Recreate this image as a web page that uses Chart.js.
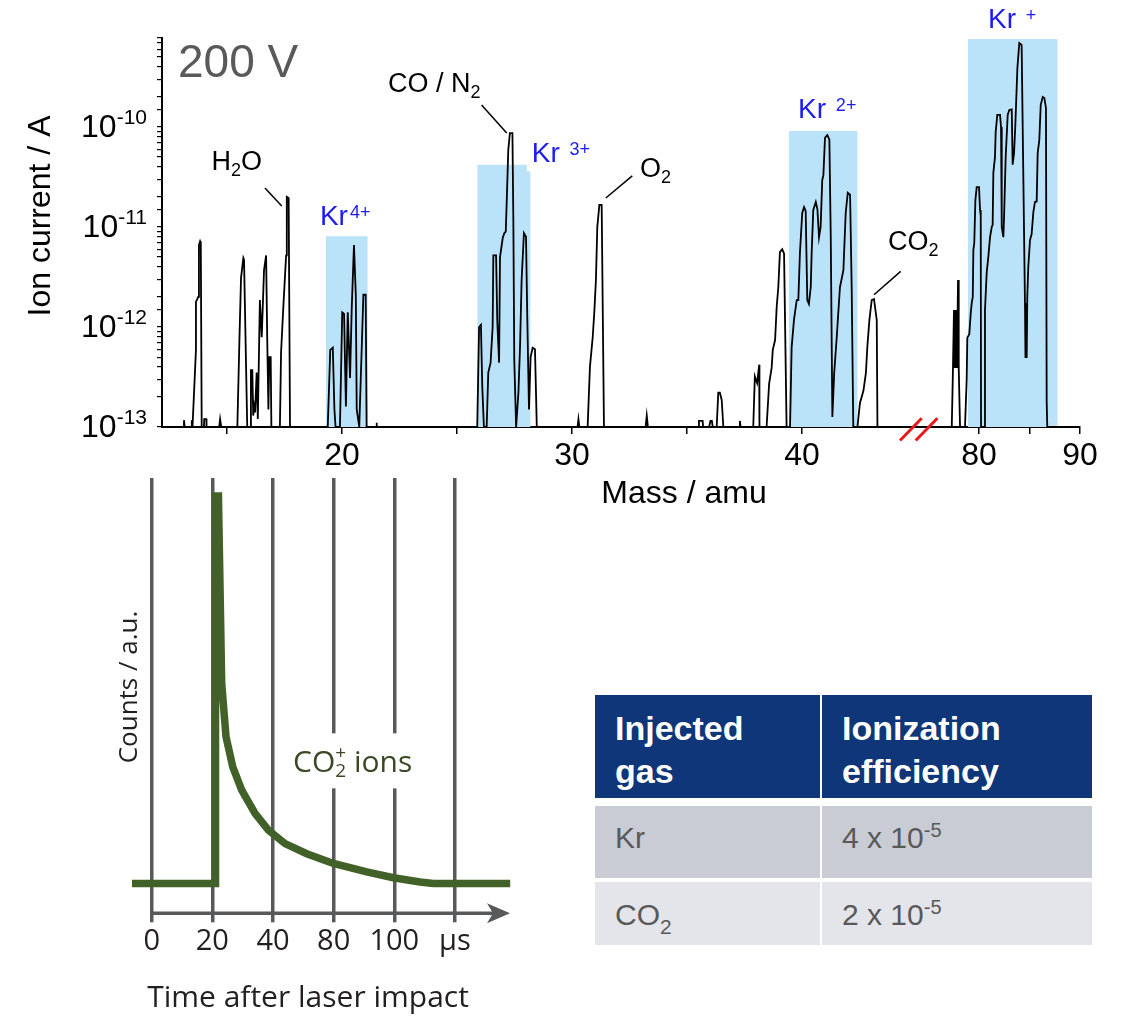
<!DOCTYPE html>
<html>
<head>
<meta charset="utf-8">
<script src="https://cdn.jsdelivr.net/npm/chart.js@4.4.0/dist/chart.umd.min.js"></script>
<style>
  html, body { margin: 0; padding: 0; background: #fff; }
  body { width: 1122px; height: 1023px; position: relative; overflow: hidden; font-family: 'Liberation Sans', Arial, sans-serif; }
  canvas { position: absolute; }
  #specLo { left: 0; top: 0; }
  #specHi { left: 880px; top: 0; }
  #decay { left: 100px; top: 470px; }
  .eff { position: absolute; left: 595px; top: 695px; width: 497px; }
  .eff .row { display: flex; gap: 2px; }
  .eff .row > div { box-sizing: border-box; padding-left: 20px; }
  .eff .c1 { width: 225px; }
  .eff .c2 { width: 270px; }
  .eff .head > div { height: 103px; background: #0e3678; color: #fff; font-weight: bold; font-size: 34px; line-height: 43px; padding-top: 12px; }
  .eff .body > div { font-size: 30px; line-height: 36px; color: #595959; }
  .eff .r1 { margin-top: 8px; }
  .eff .r1 > div { height: 72px; background: #c9ccd4; padding-top: 14px; }
  .eff .r2 { margin-top: 4px; }
  .eff .r2 > div { height: 63px; background: #e4e5ea; padding-top: 15px; }
  .eff .sup { font-size: 20px; line-height: 0; position: relative; top: -11px; }
  .eff .sub { font-size: 21px; line-height: 0; position: relative; top: 9px; }
</style>
</head>
<body>
<canvas id="specLo" width="1122" height="520"></canvas>
<canvas id="specHi" width="242" height="520"></canvas>
<canvas id="decay" width="440" height="553"></canvas>
<div class="eff" id="effTable"></div>
<script>
// ---- mass spectrum, 200 V (mass in amu, ion current in A) ----
const spectrumLow = [
  [12.174, 1e-13], [13.10, 1e-13], [13.13, 1.17e-13], [13.16, 1e-13], [13.44, 1e-13], [13.47, 1.17e-13], [13.50, 1e-13],
  [13.52, 1e-13], [13.65, 5.9e-13], [13.65, 1.78e-12], [13.75, 2.0e-12], [13.78, 6.6e-12], [13.83, 7.2e-12], [13.86, 6.9e-12], [13.90, 1e-13],
  [14.00, 1e-13], [14.01, 1.2e-13], [14.10, 1.2e-13], [14.11, 1e-13], [14.66, 1e-13], [14.70, 1.2e-13], [14.75, 1e-13],
  [15.45, 1e-13], [15.54, 7.4e-13], [15.61, 3.1e-12], [15.71, 4.9e-12], [15.74, 4.7e-12], [15.88, 1e-13],
  [16.02, 1e-13], [16.04, 3.7e-13], [16.10, 3.7e-13], [16.14, 1.3e-13], [16.18, 1.6e-13], [16.22, 1.4e-13], [16.29, 3.5e-13],
  [16.34, 1.2e-13], [16.43, 1.86e-12], [16.51, 7.9e-13], [16.61, 3.7e-12], [16.70, 5.2e-12], [16.75, 7.4e-13], [16.80, 1.5e-13],
  [16.84, 5.0e-13], [16.90, 5.0e-13], [16.93, 1e-13],
  [17.30, 1e-13], [17.35, 5.5e-13], [17.45, 1.6e-12], [17.57, 5.2e-12], [17.60, 2.0e-11], [17.68, 1.95e-11], [17.74, 1e-13],
  [19.38, 1e-13], [19.49, 5.9e-13], [19.60, 6.2e-13], [19.67, 1.5e-13], [19.72, 1e-13], [19.91, 1e-13], [20.01, 1.4e-12],
  [20.09, 1.35e-12], [20.17, 1.6e-13], [20.25, 1.4e-12], [20.35, 3.1e-13], [20.42, 1.45e-12], [20.52, 6.6e-12], [20.60, 2.1e-12],
  [20.64, 1.5e-13], [20.75, 1e-13], [20.93, 2.1e-12], [21.03, 2.1e-12], [21.07, 1e-13],
  [21.48, 1e-13], [21.50, 1.1e-13], [21.52, 1e-13],
  [25.88, 1e-13], [25.96, 1.0e-12], [26.04, 1.05e-12], [26.10, 2.5e-13], [26.17, 1e-13], [26.29, 1e-13], [26.36, 3.5e-13],
  [26.46, 4.4e-13], [26.55, 1.0e-12], [26.58, 5.2e-12], [26.70, 5.2e-12], [26.75, 1.17e-12], [26.83, 4.4e-13], [26.87, 5.0e-12],
  [26.99, 7.8e-12], [27.06, 8.7e-12], [27.12, 9.0e-12], [27.16, 1.74e-11], [27.23, 5.9e-11], [27.30, 8.7e-11], [27.41, 8.7e-11],
  [27.45, 1.17e-11], [27.49, 4.7e-13], [27.57, 1e-13], [27.67, 2.2e-13], [27.74, 6.3e-13], [27.81, 2.95e-12], [27.91, 8.7e-12],
  [28.00, 8.0e-12], [28.06, 1.1e-12], [28.13, 1.5e-13], [28.20, 5.0e-13], [28.29, 6.2e-13], [28.39, 6.0e-13], [28.47, 1e-13],
  [30.24, 1e-13], [30.28, 1.2e-13], [30.32, 1e-13],
  [30.68, 1e-13], [30.78, 4.0e-13], [30.90, 7.9e-13], [30.97, 1.41e-12], [31.04, 2.95e-12], [31.10, 1.0e-11], [31.19, 1.66e-11],
  [31.29, 1.66e-11], [31.39, 1e-13],
  [33.20, 1e-13], [33.25, 1.3e-13], [33.30, 1e-13],
  [35.50, 1e-13], [35.52, 1.15e-13], [35.68, 1.15e-13], [35.70, 1e-13], [35.96, 1e-13], [36.02, 1.15e-13], [36.08, 1.15e-13], [36.12, 1e-13],
  [36.29, 1e-13], [36.36, 2.2e-13], [36.43, 2.2e-13], [36.51, 1.86e-13], [36.58, 1e-13],
  [37.27, 1e-13], [37.30, 1.15e-13], [37.33, 1e-13],
  [37.88, 1e-13], [37.95, 3.2e-13], [38.05, 2.75e-13], [38.14, 4.2e-13], [38.15, 1e-13],
  [38.46, 1e-13], [38.57, 2.7e-13], [38.68, 3.9e-13], [38.73, 5.9e-13], [38.83, 7.4e-13], [38.90, 1.6e-12], [38.97, 2.5e-12],
  [39.04, 5.6e-12], [39.14, 6.0e-12], [39.22, 5.4e-12], [39.33, 1e-13],
  [39.48, 1e-13], [39.55, 6.3e-13], [39.65, 1.17e-12], [39.77, 1.86e-12], [39.84, 1.86e-12], [39.91, 5.5e-12], [40.01, 1.38e-11],
  [40.09, 1.58e-11], [40.16, 1.45e-11], [40.23, 1.86e-12], [40.30, 1.7e-12], [40.38, 2.5e-12], [40.42, 5.5e-12], [40.49, 1.48e-11],
  [40.60, 1.78e-11], [40.67, 1.5e-11], [40.74, 7.9e-12], [40.81, 1.0e-11], [40.88, 2.95e-11], [40.93, 3.3e-11], [41.00, 7.8e-11],
  [41.10, 8.3e-11], [41.19, 7.5e-11], [41.25, 8.0e-12], [41.32, 1.26e-13], [41.40, 3.5e-13], [41.51, 7.9e-13], [41.65, 2.5e-12],
  [41.80, 3.7e-12], [41.90, 1.38e-11], [41.99, 2.2e-11], [42.09, 2.1e-11], [42.16, 2.5e-12], [42.23, 1e-13],
  [42.41, 1e-13], [42.52, 1.74e-13], [42.67, 2.3e-13], [42.78, 3.5e-13], [42.84, 6.3e-13], [42.93, 1.17e-12], [43.03, 1.86e-12],
  [43.13, 1.9e-12], [43.25, 1.17e-12], [43.28, 1e-13],
  [44.913, 1e-13]
];
const spectrumHigh = [
  [73.66, 1e-13], [77.30, 1e-13], [77.40, 3.0e-13], [77.52, 1.48e-12], [77.58, 3.9e-13], [77.64, 1.48e-12], [77.70, 3.9e-13],
  [77.76, 1.48e-12], [77.82, 3.9e-13], [77.92, 2.95e-12], [77.99, 3.9e-13], [78.12, 1e-13],
  [78.61, 1e-13], [78.78, 3.0e-13], [78.84, 7.8e-13], [79.04, 8.5e-13], [79.18, 1.38e-12], [79.28, 1.74e-12], [79.38, 2.0e-12],
  [79.44, 5.9e-12], [79.53, 6.9e-12], [79.64, 1.86e-11], [79.77, 2.5e-11], [80.00, 2.5e-11], [80.10, 1.48e-11], [80.17, 1.3e-11],
  [80.20, 1e-13],
  [80.50, 1e-13], [80.59, 1.48e-12], [80.76, 3.5e-12], [80.92, 5.0e-12], [81.09, 7.9e-12], [81.26, 1.0e-11], [81.35, 1.05e-11],
  [81.42, 3.5e-11], [81.58, 5.0e-11], [81.65, 8.9e-11], [81.81, 1.32e-10], [82.08, 1.32e-10], [82.18, 1.0e-10], [82.25, 1.0e-11],
  [82.41, 7.9e-12], [82.48, 1.26e-11], [82.64, 5.0e-11], [82.84, 1.32e-10], [83.00, 1.48e-10], [83.24, 1.5e-10], [83.33, 4.2e-11],
  [83.47, 5.5e-11], [83.60, 1.07e-10], [83.80, 3.9e-10], [83.99, 6.9e-10], [84.22, 6.6e-10], [84.55, 1.74e-12], [84.60, 4.9e-13],
  [84.66, 1.74e-12], [84.72, 4.9e-13], [84.78, 2.0e-12], [84.88, 4.0e-12], [85.05, 7.4e-12], [85.21, 8.5e-12], [85.38, 1.41e-11],
  [85.54, 1.78e-11], [85.71, 1.8e-11], [85.81, 5.5e-11], [85.97, 7.4e-11], [86.11, 1.66e-10], [86.31, 2.0e-10], [86.47, 1.95e-10],
  [86.63, 1.55e-10], [86.70, 1.8e-13], [86.76, 1e-13], [90.00, 1e-13]
];
// highlighted krypton charge-state windows: [mass, upper current]
const bandKr4 = [[19.30, 8.1e-12], [21.12, 8.1e-12]];
const bandKr3 = [[25.88, 4.2e-11], [28.03, 4.2e-11], [28.03, 3.6e-11], [28.20, 3.6e-11]];
const bandKr2 = [[39.43, 9.1e-11], [42.42, 9.1e-11]];
const bandKr1 = [[78.88, 7.6e-10], [87.79, 7.6e-10]];
// labels: [text, mass, current]   (digits in molecule names are subscripts)
const moleculeLabels = [['H2O', 14.33, 3.7e-11], ['CO / N2', 22.0, 2.24e-10], ['O2', 32.96, 3.16e-11], ['CO2', 43.74, 5.9e-12]];
const leaderLines = [[17.38, 1.62e-11, 16.65, 2.45e-11], [27.16, 8.7e-11, 26.07, 1.66e-10], [31.47, 1.95e-11, 32.62, 3.24e-11], [43.13, 2.1e-12, 44.29, 3.6e-12]];
const krLabelsLow = [['Kr', '4+', 19.04, 1.05e-11], ['Kr ', '3+', 28.25, 4.47e-11], ['Kr ', '2+', 39.83, 1.23e-10]];
const krLabelsHigh = [['Kr ', '+', 80.89, 9.8e-10]];

// ---- CO2+ time profile (grid position, counts a.u.) ----
const timeTickLabels = ['0', '20', '40', '80', '100', 'µs'];
const decayPosition = [-0.325, 1.052, 1.052, 1.10, 1.154, 1.225, 1.336, 1.484, 1.703, 1.923, 2.198, 2.556, 2.995, 3.545, 3.984, 4.424, 4.64, 5.91];
const decayCounts = [0, 0, 1.0, 1.0, 0.516, 0.379, 0.301, 0.241, 0.181, 0.138, 0.103, 0.077, 0.052, 0.030, 0.015, 0.004, 0, 0];

// ---- table ----
const tableHeader = [['Injected', 'gas'], ['Ionization', 'efficiency']];
const injectedGas = ['Kr', 'CO2'];
const efficiencyMantissa = [4, 2];
const efficiencyExponent = [-5, -5];

const FONT = "'Liberation Sans', Arial, sans-serif";
const DECAY_FONT = "'Open Sans', 'Noto Sans', sans-serif";
const KR_BLUE = '#1c1cf2';
const BAND_BLUE = '#bae3fa';

Chart.defaults.font.family = FONT;

function pts(list) {
    return list.map(p => ({ x: p[0], y: p[1] }));
}
function traceDataset(list) {
    return { data: pts(list), borderColor: '#000', borderWidth: 1.8, pointRadius: 0, tension: 0, fill: false, order: 1 };
}
function bandDataset(list) {
    return { data: pts(list), borderWidth: 0, pointRadius: 0, tension: 0, fill: 'start', backgroundColor: BAND_BLUE, borderColor: BAND_BLUE, order: 2 };
}

// draw text where digits become subscripts
function drawMolecule(ctx, text, x, y) {
    let cx = x;
    for (const ch of text) {
        const sub = /[0-9]/.test(ch);
        ctx.font = (sub ? 18 : 27) + 'px ' + FONT;
        ctx.fillText(ch, cx, sub ? y + 6 : y);
        cx += ctx.measureText(ch).width;
    }
}

function spectrumDecor(side) {
    return {
        id: 'spectrumDecor' + side,
        afterDraw(chart) {
            const ctx = chart.ctx;
            const xs = chart.scales.x, ys = chart.scales.y, ca = chart.chartArea;
            ctx.save();
            ctx.textAlign = 'left';
            ctx.textBaseline = 'alphabetic';
            ctx.fillStyle = '#000';
            if (side === 'lo') {
                // decade labels 10^n
                ys.ticks.forEach(t => {
                    const e = Math.log10(t.value);
                    if (Math.abs(e - Math.round(e)) > 1e-6) return;
                    const py = ys.getPixelForValue(t.value);
                    const right = ca.left - 15;
                    const sup = String(Math.round(e));
                    ctx.font = '21px ' + FONT;
                    const sw = ctx.measureText(sup).width;
                    ctx.fillText(sup, right - sw, py - 3);
                    ctx.font = '32px ' + FONT;
                    const bw = ctx.measureText('10').width;
                    ctx.fillText('10', right - sw - bw, py + 10);
                });
                // axis titles
                ctx.save();
                ctx.translate(ca.left - 121, ca.top + 178);
                ctx.rotate(-Math.PI / 2);
                ctx.textAlign = 'center';
                ctx.textBaseline = 'middle';
                ctx.font = '32px ' + FONT;
                ctx.fillText('Ion current / A', 0, 0);
                ctx.restore();
                ctx.textAlign = 'center';
                ctx.font = '32px ' + FONT;
                ctx.fillText('Mass / amu', 684, ca.bottom + 76);
                ctx.textAlign = 'left';
                ctx.fillStyle = '#595959';
                ctx.font = '46px ' + FONT;
                ctx.fillText('200 V', ca.left + 16, ca.top + 39);
                ctx.fillStyle = '#000';
                moleculeLabels.forEach(([txt, m, c]) => drawMolecule(ctx, txt, xs.getPixelForValue(m), ys.getPixelForValue(c)));
                ctx.strokeStyle = '#000';
                ctx.lineWidth = 1.5;
                leaderLines.forEach(([m1, c1, m2, c2]) => {
                    ctx.beginPath();
                    ctx.moveTo(xs.getPixelForValue(m1), ys.getPixelForValue(c1));
                    ctx.lineTo(xs.getPixelForValue(m2), ys.getPixelForValue(c2));
                    ctx.stroke();
                });
            }
            const krLabels = side === 'lo' ? krLabelsLow : krLabelsHigh;
            ctx.fillStyle = KR_BLUE;
            krLabels.forEach(([base, charge, m, c]) => {
                const px = xs.getPixelForValue(m), py = ys.getPixelForValue(c);
                ctx.font = '28px ' + FONT;
                ctx.fillText(base, px, py);
                const w = ctx.measureText(base).width;
                ctx.font = '18px ' + FONT;
                ctx.fillText(charge, px + w + 2, py - 7);
            });
            if (side === 'hi') {
                // axis break marks
                ctx.strokeStyle = '#e8191c';
                ctx.lineWidth = 3;
                [-15, 0.7].forEach(a => {
                    ctx.beginPath();
                    ctx.moveTo(ca.left + a, ca.bottom + 13.5);
                    ctx.lineTo(ca.left + a + 21.7, ca.bottom - 8.7);
                    ctx.stroke();
                });
            }
            ctx.restore();
        }
    };
}

function spectrumOptions(lo) {
    return {
        responsive: false,
        animation: false,
        events: [],
        layout: { padding: lo ? { top: 38, right: 207, left: 0, bottom: 0 } : { top: 38, right: 42, left: 35, bottom: 0 } },
        plugins: { legend: { display: false }, tooltip: { enabled: false } },
        scales: {
            x: {
                type: 'linear',
                min: lo ? 12.174 : 73.66,
                max: lo ? 44.913 : 90,
                afterFit: s => { s.height = 93; },
                border: { display: true, color: '#000', width: 2 },
                grid: {
                    drawOnChartArea: false, tickLength: 7, lineWidth: 1.5,
                    color: c => (c.tick && c.tick.value === 75) ? 'rgba(0,0,0,0)' : '#000'
                },
                ticks: {
                    stepSize: 5, includeBounds: false, autoSkip: false, maxRotation: 0,
                    color: '#000', font: { size: 32 }, padding: 3,
                    callback: v => v % 10 === 0 ? String(v) : ''
                }
            },
            y: {
                type: 'logarithmic',
                display: lo,
                min: 1e-13,
                max: 7.76e-10,
                afterFit: s => { if (lo) s.width = 162; },
                border: { display: true, color: '#000', width: 2 },
                grid: { drawOnChartArea: false, tickLength: 5, lineWidth: 1.2, color: '#000' },
                ticks: { display: false }
            }
        }
    };
}

new Chart(document.getElementById('specLo'), {
    type: 'line',
    data: { datasets: [traceDataset(spectrumLow), bandDataset(bandKr4), bandDataset(bandKr3), bandDataset(bandKr2)] },
    options: spectrumOptions(true),
    plugins: [spectrumDecor('lo')]
});
new Chart(document.getElementById('specHi'), {
    type: 'line',
    data: { datasets: [traceDataset(spectrumHigh), bandDataset(bandKr1)] },
    options: spectrumOptions(false),
    plugins: [spectrumDecor('hi')]
});

// ---- time profile chart ----
const AXIS_GREY = '#58595b';
const decayDecor = {
    id: 'decayDecor',
    afterDatasetsDraw(chart) {
        const ctx = chart.ctx, xs = chart.scales.x, ys = chart.scales.y, ca = chart.chartArea;
        ctx.save();
        // arrow axis
        const x0 = xs.getPixelForValue(0), yb = ca.bottom, tip = ca.right - 2;
        ctx.strokeStyle = AXIS_GREY;
        ctx.fillStyle = AXIS_GREY;
        ctx.lineWidth = 3.5;
        ctx.beginPath();
        ctx.moveTo(x0 - 1.7, yb);
        ctx.lineTo(tip - 10, yb);
        ctx.stroke();
        ctx.beginPath();
        ctx.moveTo(tip, yb);
        ctx.lineTo(tip - 23, yb - 10);
        ctx.lineTo(tip - 17, yb);
        ctx.lineTo(tip - 23, yb + 10);
        ctx.closePath();
        ctx.fill();
        // CO2+ ions label with a white gap behind it
        const lx = xs.getPixelForValue(2.33), ly = ys.getPixelForValue(0.287);
        ctx.font = '30px ' + DECAY_FONT;
        const wCO = ctx.measureText('CO').width;
        ctx.font = '19px ' + DECAY_FONT;
        const w2 = ctx.measureText('2').width;
        ctx.font = '30px ' + DECAY_FONT;
        const wIons = ctx.measureText(' ions').width;
        const total = wCO + w2 + wIons;
        ctx.fillStyle = '#fff';
        ctx.fillRect(lx - 4, ly - 39, total + 8, 55);
        ctx.fillStyle = '#3a4826';
        ctx.textAlign = 'left';
        ctx.textBaseline = 'alphabetic';
        ctx.fillText('CO', lx, ly);
        ctx.font = '19px ' + DECAY_FONT;
        ctx.fillText('+', lx + wCO, ly - 13);
        ctx.fillText('2', lx + wCO, ly + 5);
        ctx.font = '30px ' + DECAY_FONT;
        ctx.fillText(' ions', lx + wCO + w2, ly);
        // axis titles
        ctx.fillStyle = '#231f20';
        ctx.textAlign = 'center';
        ctx.font = '30px ' + DECAY_FONT;
        ctx.fillText('Time after laser impact', ca.left + 176, ca.bottom + 94);
        ctx.save();
        ctx.translate(ca.left - 2, ca.top + 209);
        ctx.rotate(-Math.PI / 2);
        ctx.textBaseline = 'middle';
        ctx.font = '26px ' + DECAY_FONT;
        ctx.fillText('Counts / a.u.', 0, 0);
        ctx.restore();
        ctx.restore();
    }
};

new Chart(document.getElementById('decay'), {
    type: 'line',
    data: {
        datasets: [{
            data: decayPosition.map((p, i) => ({ x: p, y: decayCounts[i] })),
            borderColor: '#426128',
            borderWidth: 7.5,
            borderJoinStyle: 'miter',
            borderCapStyle: 'butt',
            pointRadius: 0,
            tension: 0,
            clip: false
        }]
    },
    options: {
        responsive: false,
        animation: false,
        events: [],
        layout: { padding: { top: 8, right: 28, left: 32, bottom: 0 } },
        plugins: { legend: { display: false }, tooltip: { enabled: false } },
        scales: {
            x: {
                type: 'linear',
                min: -0.325,
                max: 5.94,
                afterFit: s => { s.height = 109.7; },
                border: { display: false },
                grid: { color: AXIS_GREY, lineWidth: 3.5, tickLength: 9 },
                ticks: {
                    stepSize: 1, includeBounds: false, autoSkip: false, maxRotation: 0, padding: 2,
                    color: '#231f20', font: { family: DECAY_FONT, size: 29 },
                    callback: v => timeTickLabels[v] ?? ''
                }
            },
            y: { type: 'linear', display: false, min: -0.0767, max: 1.0465 }
        }
    },
    plugins: [decayDecor]
});

// ---- efficiency table ----
const subDigits = s => s.replace(/([A-Za-z])([0-9])/g, '$1<span class="sub">$2</span>');
let html = '<div class="row head">' +
    tableHeader.map((lines, i) => `<div class="c${i + 1}">${lines.join('<br>')}</div>`).join('') + '</div>';
injectedGas.forEach((gas, i) => {
    html += `<div class="row body r${i + 1}">
        <div class="c1">${subDigits(gas)}</div>
        <div class="c2">${efficiencyMantissa[i]} x 10<span class="sup">${efficiencyExponent[i]}</span></div>
    </div>`;
});
document.getElementById('effTable').innerHTML = html;
</script>
</body>
</html>
